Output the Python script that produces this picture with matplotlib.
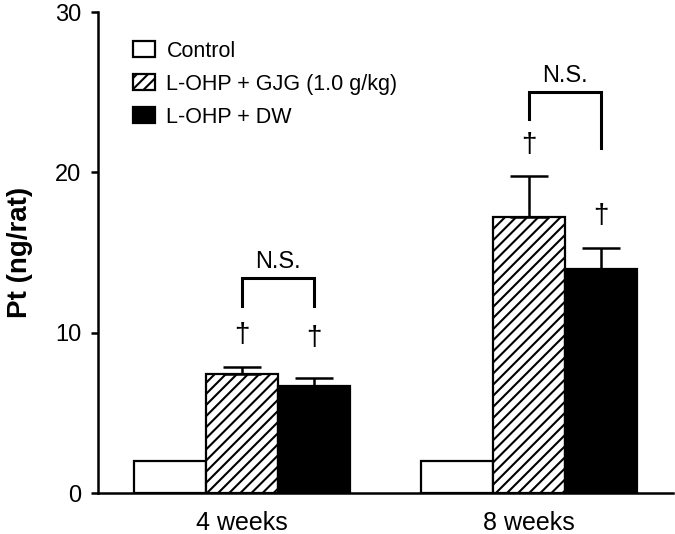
import matplotlib
matplotlib.use('Agg')
import matplotlib.pyplot as plt
import numpy as np
from matplotlib.patches import Patch

plt.rcParams['font.family'] = ['Liberation Sans', 'DejaVu Sans']
plt.rcParams['hatch.linewidth'] = 1.5

# data
groups = ['4 weeks', '8 weeks']
series = ['Control', 'L-OHP + GJG (1.0 g/kg)', 'L-OHP + DW']
control = [2.0, 2.0]
gjg = [7.4, 17.2]
gjg_err = [0.46, 2.6]
dw = [6.7, 14.0]
dw_err = [0.5, 1.25]

# dagger heights
dagger_gjg = [9.85, 21.7]
dagger_dw = [9.65, 17.25]

# significance brackets (top, left leg end, right leg end)
ns_top = [13.4, 25.0]
ns_left = [11.65, 23.35]
ns_right = [11.65, 21.5]

fig = plt.figure(figsize=(6.75, 5.34), dpi=100)
ax = fig.add_axes([98 / 675, 1 - 493 / 534, 575 / 675, 481 / 534])

centers = np.array([0, 4])
w = 1.0
ekw = dict(ecolor='black', elinewidth=1.8, capthick=1.8)

ax.bar(centers - w, control, w, color='white', edgecolor='black', linewidth=1.6)
ax.bar(centers, gjg, w, color='white', edgecolor='black', linewidth=1.6, hatch='///')
ax.bar(centers + w, dw, w, color='black', edgecolor='black', linewidth=1.6)
ax.errorbar(centers, gjg, yerr=[np.zeros(2), gjg_err], fmt='none', capsize=13.5, **ekw)
ax.errorbar(centers + w, dw, yerr=[np.zeros(2), dw_err], fmt='none', capsize=13.5, **ekw)

# daggers above error bars
for i in range(2):
    ax.text(centers[i], dagger_gjg[i], '\u2020', ha='center', va='center', fontsize=20)
    ax.text(centers[i] + w, dagger_dw[i], '\u2020', ha='center', va='center', fontsize=20)

# N.S. brackets
for i in range(2):
    x0, x1 = centers[i], centers[i] + w
    ax.plot([x0, x0, x1, x1], [ns_left[i], ns_top[i], ns_top[i], ns_right[i]],
            color='black', lw=2.2, solid_joinstyle='miter')
    ax.text((x0 + x1) / 2, ns_top[i] + 1.0, 'N.S.', ha='center', va='center', fontsize=17)

ax.set_xlim(-2, 6)
ax.set_ylim(0, 30)
ax.set_yticks([0, 10, 20, 30])
ax.set_xticks(centers)
ax.set_xticklabels(groups)
ax.tick_params(axis='y', direction='out', length=5, width=1.8, labelsize=17, pad=7)
ax.tick_params(axis='x', length=0, labelsize=18, pad=13)
ax.spines['top'].set_visible(False)
ax.spines['right'].set_visible(False)
ax.spines['left'].set_linewidth(1.8)
ax.spines['bottom'].set_linewidth(1.8)
ax.set_ylabel('Pt (ng/rat)', fontsize=20, fontweight='bold', labelpad=16)

handles = [Patch(facecolor='white', edgecolor='black', linewidth=1.6),
           Patch(facecolor='white', edgecolor='black', linewidth=1.6, hatch='///'),
           Patch(facecolor='black', edgecolor='black', linewidth=1.6)]
ax.legend(handles, series, loc='upper left', bbox_to_anchor=(0.061, 0.94),
          frameon=False, fontsize=15.5, handlelength=1.0, handleheight=0.75,
          handletextpad=0.55, labelspacing=0.55, borderpad=0, borderaxespad=0)

fig.savefig('out.png', dpi=100)
